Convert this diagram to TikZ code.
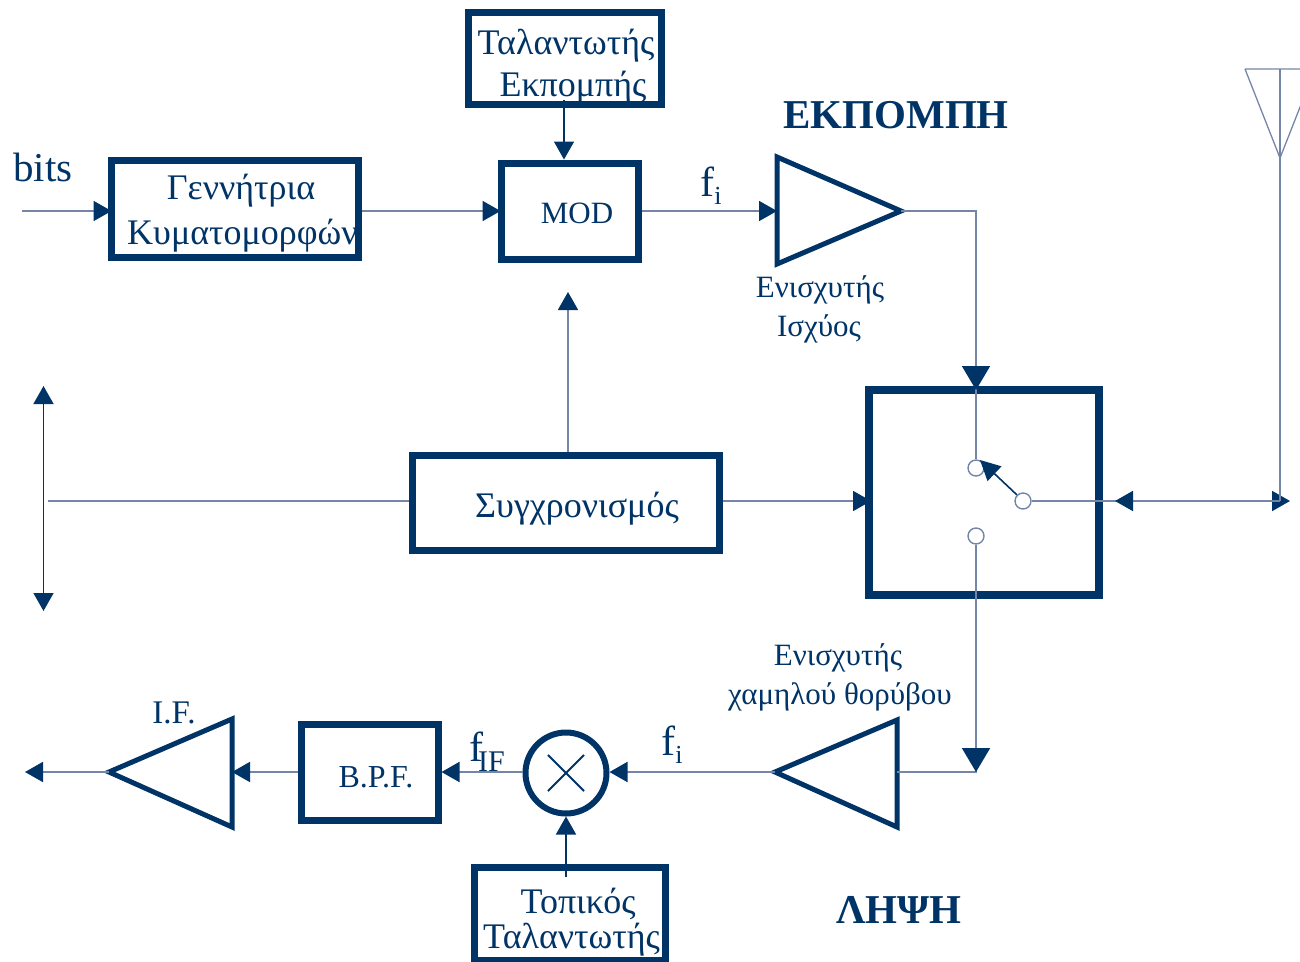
\documentclass[tikz,border=0pt]{standalone}
\usepackage{fontspec}
\setmainfont{Liberation Serif}
\usetikzlibrary{arrows.meta}
\definecolor{navy}{HTML}{003366}
\definecolor{wire}{HTML}{7585A8}
\newcommand{\fs}[1]{\fontsize{#1}{#1}\selectfont}
\tikzset{
  x=1pt,y=-1pt,
  blockbox/.style={draw=navy,line width=7pt,fill=none,inner sep=0pt,minimum width=#1},
  lbl/.style={text=navy,inner sep=0pt,font=\fs{36}},
  wirel/.style={draw=wire,line width=1.8pt},
  darkl/.style={draw=navy,line width=1.6pt},
  tip/.style={-{Triangle[length=18pt,width=20pt,fill=navy,color=navy]}},
  bigtip/.style={-{Triangle[length=24pt,width=28pt,fill=navy,color=navy]}},
  tri/.style={draw=navy,line width=5pt,line join=miter,fill=none},
  contact/.style={circle,draw=wire,fill=white,line width=1.4pt,minimum size=16pt,inner sep=0pt},
}
\begin{document}
\begin{tikzpicture}
\useasboundingbox (0,0) rectangle (1300,961);
\clip (0,0) rectangle (1300,961);
% text first
\node[lbl] (tTop1) at (566,46) {Ταλαντωτής};
\node[lbl] (tTop2) at (573,88) {Εκπομπής};
\node[lbl] (tGen1) at (241,191) {Γεννήτρια};
\node[lbl,anchor=west] (tGen2) at (127,236) {Κυματομορφών};
\node[lbl,font=\fs{31}] (tMod) at (577,213) {MOD};
\node[lbl] (tSync) at (577,509) {Συγχρονισμός};
\node[lbl,font=\fs{32}] (tBpf) at (376,777) {B.P.F.};
\node[lbl] (tLo1) at (578,904) {Τοπικός};
\node[lbl,anchor=west] (tLo2) at (483,940) {Ταλαντωτής};
\node[lbl,font=\fs{41}] (tBits) at (43,167) {bits};
\node[lbl,font=\fs{41}\bfseries] (tTx) at (896,115) {ΕΚΠΟΜΠΗ};
\node[lbl,font=\fs{41}\bfseries] (tRx) at (899,910) {ΛΗΨΗ};
\node[lbl,font=\fs{31}] (tA1) at (820,290) {Ενισχυτής};
\node[lbl,font=\fs{31}] (tA2) at (819,329) {Ισχύος};
\node[lbl,font=\fs{31}] (tL1) at (838,658) {Ενισχυτής};
\node[lbl,font=\fs{31}] (tL2) at (840,697) {χαμηλού θορύβου};
\node[lbl,font=\fs{33}] (tIf) at (174,713) {I.F.};
\node[lbl,font=\fs{42}] (tFi1) at (711,186) {f\raisebox{-8pt}{\fs{26}i}};
\node[lbl,font=\fs{42}] (tFi2) at (672,745) {f\raisebox{-8pt}{\fs{26}i}};
\node[lbl,anchor=west,font=\fs{42}] (tFif) at (469,752) {f\raisebox{-10pt}{\fs{30}\kern-5pt IF}};
% blocks
\node[blockbox=247pt,minimum height=97pt] (gen) at (234.5,208.5) {};
\node[blockbox=137pt,minimum height=96pt] (mod) at (569.5,211) {};
\node[blockbox=193pt,minimum height=92pt] (top) at (564.5,58) {};
\node[blockbox=307pt,minimum height=95pt] (sync) at (565.5,502.5) {};
\node[blockbox=230pt,minimum height=205pt,line width=7.5pt] (sw) at (984,492.5) {};
\node[blockbox=137pt,minimum height=96pt] (bpf) at (369.5,772) {};
\node[blockbox=191pt,minimum height=93.5pt] (lo) at (569.5,913.75) {};
\node[circle,draw=navy,line width=6pt,minimum size=81pt,inner sep=0pt] (mix) at (566,773) {};
\draw[navy,line width=2pt,shorten >=18pt,shorten <=18pt] (mix.45) -- (mix.225);
\draw[navy,line width=2pt,shorten >=18pt,shorten <=18pt] (mix.135) -- (mix.315);
% triangles
\coordinate (txL) at (777,211);
\coordinate (txR) at (901,211);
\draw[tri] (777,157) -- (txR) -- (777,264) -- cycle;
\coordinate (lnaL) at (775,772);
\coordinate (lnaR) at (897,772);
\draw[tri] (897,720) -- (lnaL) -- (897,827) -- cycle;
\coordinate (ifL) at (109,772);
\coordinate (ifR) at (232,772);
\draw[tri] (232,719) -- (ifL) -- (232,827) -- cycle;
% contacts
\node[contact] (c1) at (976,468) {};
\node[contact] (c2) at (1023,501) {};
\node[contact] (c3) at (976,536) {};
% free ends
\coordinate (bitsIn) at (22,211);
\coordinate (ifOut) at (25,772);
\coordinate (busL) at (48,501);
\coordinate (busUp) at (43.5,386);
\coordinate (busDn) at (43.5,611);
\coordinate (corner1) at (976,211);
\coordinate (corner2) at (976,772);
\coordinate (swTop) at (976,390);
\coordinate (swIn) at (871,501);
\coordinate (modUnder) at (568,292);
\coordinate (antBase) at (1280,501);
\coordinate (antEnd) at (1290,501);
\coordinate (swPort) at (1115,501);
\coordinate (antTop) at (1280,69);
\coordinate (antTip) at (1280,158);
\coordinate (antL) at (1245,69);
\coordinate (antR) at (1315,69);
\coordinate (topOut) at (564,100);
\coordinate (loOut) at (566,877);
% connectors
\draw[wirel,tip,shorten >=-4pt] (bitsIn) -- (gen.west |- bitsIn);
\draw[wirel,tip,shorten >=-3pt] (gen.east |- bitsIn) -- (mod.west |- bitsIn);
\draw[wirel,tip] (mod.east |- bitsIn) -- (txL);
\draw[darkl,tip] (topOut) -- (topOut |- mod.north);
\draw[wirel] (txR) -- (corner1) -- (c1.north);
\draw[wirel,bigtip] (corner1) -- (swTop);
\draw[wirel] (c3.south) -- (corner2) -- (lnaR);
\draw[wirel,bigtip] (c3.south) -- (corner2);
\draw[wirel,tip] (modUnder |- sync.north) -- (modUnder);
\draw[wirel] (sync.west |- busL) -- (busL);
\draw[darkl,{Triangle[length=18pt,width=20pt,fill=navy,color=navy]}-{Triangle[length=18pt,width=20pt,fill=navy,color=navy]}] (busUp) -- (busDn);
\draw[wirel,tip] (sync.east |- swIn) -- (swIn);
\draw[wirel,tip] (c2.east) -- (antEnd);
\draw[wirel,tip] (antBase) -- (swPort);
\draw[darkl,-{Triangle[length=20pt,width=20pt,fill=navy,color=navy]}] (c2.north west) -- (980,460);
\draw[wirel] (antTop) -- (antBase);
\draw[wirel,line width=1.3pt] (antL) -- (antR) -- (antTip) -- (antL);
\draw[wirel,tip] (lnaL) -- (mix.east |- lnaL);
\draw[wirel,tip] (mix.west |- lnaL) -- (bpf.east |- lnaL);
\draw[wirel,tip] (bpf.west |- lnaL) -- (ifR);
\draw[wirel,tip] (ifL) -- (ifOut);
\draw[darkl,tip] (loOut) -- (mix.south);
\end{tikzpicture}
\end{document}
